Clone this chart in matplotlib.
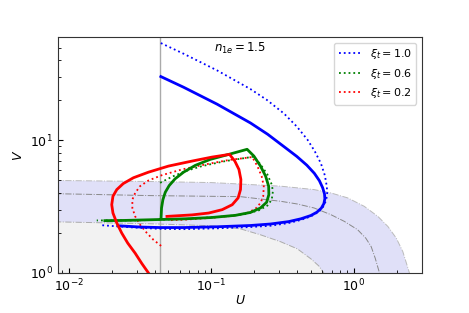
#!/usr/bin/env python3
"""Rebuild of the U-V diagram with xi_t curves."""
import matplotlib
matplotlib.use("Agg")
import matplotlib.pyplot as plt

# boundary curves of the shaded bands
upper_U = [0.008, 0.0372, 0.100, 0.160, 0.306, 0.401, 0.525, 0.689, 0.903,
           1.18, 1.47, 1.73, 1.98, 2.20, 2.45]
upper_V = [4.98, 4.89, 4.80, 4.68, 4.51, 4.38, 4.25, 4.01, 3.68,
           3.18, 2.67, 2.24, 1.83, 1.45, 1.0]
mid_U = [0.008, 0.0372, 0.160, 0.306, 0.401, 0.525, 0.689, 0.855, 1.06,
         1.21, 1.32, 1.41, 1.51]
mid_V = [3.96, 3.83, 3.76, 3.47, 3.31, 3.09, 2.75, 2.45, 2.12,
         1.83, 1.58, 1.29, 1.0]
lower_U = [0.008, 0.0372, 0.100, 0.160, 0.221, 0.306, 0.401, 0.498, 0.567, 0.615]
lower_V = [2.43, 2.35, 2.27, 2.15, 1.94, 1.72, 1.52, 1.28, 1.13, 1.0]

U_cut = 0.0437  # vertical grey line

# xi_t = 1.0
blue_U = [0.0442, 0.0638, 0.1097, 0.188, 0.248, 0.323, 0.397, 0.467, 0.527, 0.572,
          0.603, 0.621, 0.625, 0.615, 0.590, 0.549, 0.498, 0.424, 0.349, 0.260,
          0.188, 0.1097, 0.0638, 0.0437, 0.0316, 0.0221]
blue_V = [30.2, 25.1, 18.7, 13.5, 11.1, 8.95, 7.56, 6.49, 5.64, 4.96,
          4.39, 3.95, 3.63, 3.33, 3.08, 2.87, 2.71, 2.56, 2.44, 2.34,
          2.28, 2.23, 2.20, 2.20, 2.22, 2.27]
blue_dot_U = [0.0442, 0.0638, 0.1097, 0.188, 0.244, 0.323, 0.397, 0.472, 0.531, 0.586,
              0.625, 0.645, 0.649, 0.635, 0.605, 0.570, 0.498, 0.424, 0.349, 0.260,
              0.188, 0.1097, 0.0638, 0.0437, 0.0269, 0.0171]
blue_dot_V = [54.0, 44.9, 33.6, 24.3, 20.2, 15.9, 12.7, 10.1, 8.26, 6.70,
              5.43, 4.48, 3.90, 3.48, 3.13, 2.91, 2.67, 2.51, 2.38, 2.27,
              2.22, 2.17, 2.14, 2.15, 2.21, 2.29]

# xi_t = 0.6
green_U = [0.0444, 0.0447, 0.0457, 0.0475, 0.0506, 0.0557, 0.0638, 0.0771, 0.0982,
           0.1324, 0.178, 0.1985, 0.221, 0.240, 0.252, 0.253, 0.244, 0.221, 0.188,
           0.1476, 0.101, 0.0656, 0.0382, 0.0248, 0.0179]
green_V = [2.64, 3.09, 3.57, 4.06, 4.56, 5.13, 5.75, 6.47, 7.18,
           7.83, 8.55, 7.61, 6.39, 5.37, 4.51, 3.90, 3.41, 3.09, 2.86,
           2.72, 2.62, 2.56, 2.52, 2.49, 2.48]
green_dot_U = [0.0437, 0.0529, 0.0656, 0.0860, 0.1256, 0.1985, 0.221, 0.247, 0.265,
               0.270, 0.265, 0.247, 0.216, 0.1735, 0.1256, 0.0656, 0.0292, 0.0157]
green_dot_V = [4.78, 5.31, 5.85, 6.39, 6.97, 7.53, 6.58, 5.53, 4.64,
               4.13, 3.57, 3.22, 2.97, 2.78, 2.67, 2.55, 2.49, 2.49]

# xi_t = 0.2
red_U = [0.0362, 0.0325, 0.0292, 0.0259, 0.0235, 0.0217, 0.0204, 0.0200, 0.0204,
         0.0217, 0.0241, 0.0284, 0.0362, 0.0500, 0.0731, 0.101, 0.134, 0.146,
         0.156, 0.161, 0.160, 0.154, 0.140, 0.119, 0.0957, 0.0731, 0.0488]
red_V = [1.0, 1.18, 1.41, 1.68, 2.00, 2.38, 2.83, 3.27, 3.79,
         4.25, 4.72, 5.22, 5.75, 6.39, 6.97, 7.47, 7.83, 6.97,
         6.03, 5.07, 4.25, 3.68, 3.27, 3.00, 2.83, 2.74, 2.67]
red_dot_U = [0.0444, 0.0392, 0.0353, 0.0316, 0.0292, 0.0279, 0.0279, 0.0292, 0.0316,
             0.0362, 0.0450, 0.0622, 0.0907, 0.1324, 0.1935, 0.210, 0.225, 0.233,
             0.231, 0.221, 0.204, 0.178, 0.1435, 0.0984, 0.0638, 0.0514]
red_dot_V = [1.60, 1.78, 2.00, 2.31, 2.67, 3.09, 3.57, 4.01, 4.51,
             4.98, 5.46, 6.03, 6.58, 7.10, 7.47, 6.39, 5.37, 4.51,
             3.79, 3.37, 3.05, 2.83, 2.70, 2.60, 2.52, 2.50]

fig = plt.figure(figsize=(4.69, 3.13), dpi=100)
ax = fig.add_axes([0.1237, 0.1278, 0.7761, 0.754])
ax.set_xscale('log')
ax.set_yscale('log')

# shaded regions
ax.fill(lower_U + [lower_U[-1], 0.008], lower_V + [0.9, 0.9],
        color='#f2f2f2', lw=0, zorder=0)
ax.fill(upper_U + lower_U[::-1], upper_V + lower_V[::-1],
        color='#e0e0f8', lw=0, zorder=0)
ax.plot(upper_U, upper_V, color='#bbbbbb', lw=0.7, ls='-.', zorder=1)
ax.plot(mid_U, mid_V, color='#888888', lw=0.7, ls='-.', zorder=1)
ax.plot(lower_U, lower_V, color='#aaaaaa', lw=0.7, ls='-.', zorder=1)

ax.axvline(U_cut, color='#aaaaaa', lw=1.0, zorder=1)

ax.plot(blue_dot_U, blue_dot_V, color='blue', ls=':', lw=1.3, label=r'$\xi_t = 1.0$')
ax.plot(green_dot_U, green_dot_V, color='green', ls=':', lw=1.3, label=r'$\xi_t = 0.6$')
ax.plot(red_dot_U, red_dot_V, color='red', ls=':', lw=1.3, label=r'$\xi_t = 0.2$')
ax.plot(blue_U, blue_V, color='blue', lw=2)
ax.plot(green_U, green_V, color='green', lw=2)
ax.plot(red_U, red_V, color='red', lw=2)

ax.set_xlim(0.0084, 3.0)
ax.set_ylim(1, 60)
ax.set_xlabel(r'$U$', fontsize=9, labelpad=0)
ax.set_ylabel(r'$V$', fontsize=9)
ax.tick_params(which='both', direction='in', labelsize=9)
for s in ax.spines.values():
    s.set_color('#333333')

ax.text(0.5, 0.985, r'$n_{1e} = 1.5$', transform=ax.transAxes,
        ha='center', va='top', fontsize=8.5)
ax.legend(loc='upper right', fontsize=8)

fig.savefig('out.png', dpi=100)
